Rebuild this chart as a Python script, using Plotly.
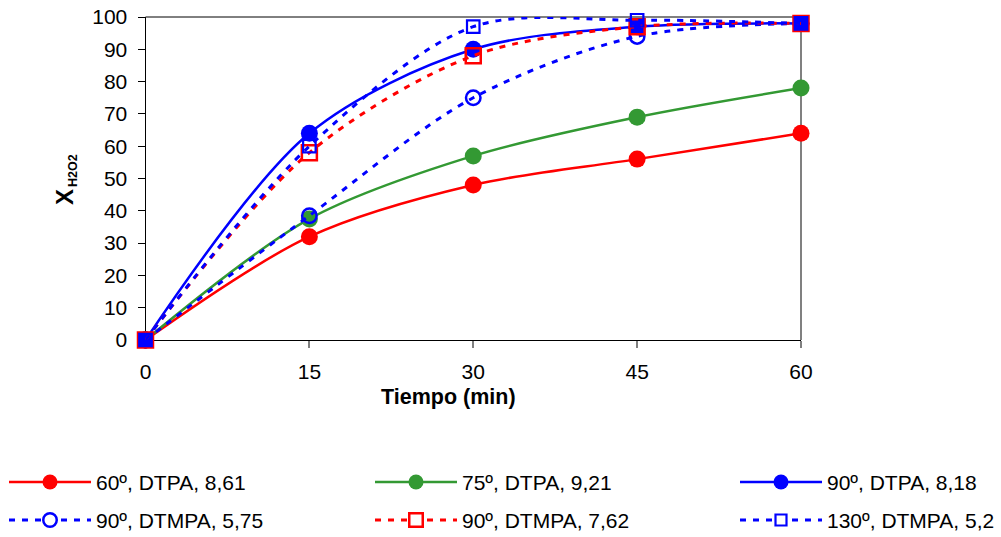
import plotly.graph_objects as go

# H2O2 conversion vs. time for several temperature / stabilizer / pH runs
tiempo = [0, 15, 30, 45, 60]

x_60_dtpa_861 = [0, 32, 48, 56, 64]
x_75_dtpa_921 = [0, 37.5, 57, 69, 78]
x_90_dtpa_818 = [0, 64, 90, 97, 98]
x_90_dtmpa_575 = [0, 38.5, 75, 94, 98]
x_90_dtmpa_762 = [0, 58, 88, 97, 98]
x_130_dtmpa_52 = [0, 60, 97, 99, 98]

series_names = [
    "60º, DTPA, 8,61",
    "75º, DTPA, 9,21",
    "90º, DTPA, 8,18",
    "90º, DTMPA, 5,75",
    "90º, DTMPA, 7,62",
    "130º, DTMPA, 5,2",
]
series_values = [
    x_60_dtpa_861,
    x_75_dtpa_921,
    x_90_dtpa_818,
    x_90_dtmpa_575,
    x_90_dtmpa_762,
    x_130_dtmpa_52,
]

x_tick_vals = [0, 15, 30, 45, 60]
y_tick_vals = [0, 10, 20, 30, 40, 50, 60, 70, 80, 90, 100]

x_title = "<b>Tiempo (min)</b>"

RED = "#FF0000"
GREEN = "#339933"
BLUE = "#0000FF"
CLEAR = "rgba(0,0,0,0)"
DASH = "6px,7px"
FONT = "Liberation Sans, Arial, sans-serif"

# marker / line styling per series
styles = [
    dict(color=RED, dash="solid", lw=2.5, symbol="circle", size=17, fill=RED, mlw=0, leg_size=15),
    dict(color=GREEN, dash="solid", lw=2.5, symbol="circle", size=17, fill=GREEN, mlw=0, leg_size=15),
    dict(color=BLUE, dash="solid", lw=2.5, symbol="circle", size=17, fill=BLUE, mlw=0, leg_size=15),
    dict(color=BLUE, dash=DASH, lw=3, symbol="circle", size=14.5, fill=None, mlw=2.5, leg_size=13.5),
    dict(color=RED, dash=DASH, lw=3, symbol="square", size=15, fill=None, mlw=2.5, leg_size=13.5),
    dict(color=BLUE, dash=DASH, lw=3, symbol="square", size=12.5, fill=None, mlw=2.2, leg_size=11),
]

W, H = 1001, 537
plot_left, plot_right, plot_top, plot_bottom = 145.5, 801, 17, 340

fig = go.Figure()

for name, vals, st in zip(series_names, series_values, styles):
    fig.add_trace(go.Scatter(
        x=tiempo, y=vals, name=name, mode="lines+markers",
        line=dict(color=st["color"], width=st["lw"], dash=st["dash"],
                  shape="spline", smoothing=0.9),
        marker=dict(symbol=st["symbol"], size=st["size"],
                    color=st["fill"] if st["fill"] else CLEAR,
                    line=dict(color=st["color"], width=st["mlw"])),
        cliponaxis=False, showlegend=False, xaxis="x", yaxis="y",
    ))

# legend drawn on a pixel-scaled overlay axis pair below the chart
leg_cols = [9, 375, 740]
leg_rows = [482, 520]
leg_len = 82
annotations = []
for i, (name, st) in enumerate(zip(series_names, styles)):
    x0 = leg_cols[i % 3]
    yy = leg_rows[i // 3]
    fig.add_trace(go.Scatter(
        x=[x0, x0 + leg_len], y=[yy, yy], mode="lines",
        line=dict(color=st["color"], width=st["lw"], dash=st["dash"]),
        showlegend=False, hoverinfo="skip", xaxis="x2", yaxis="y2",
    ))
    fig.add_trace(go.Scatter(
        x=[x0 + leg_len / 2], y=[yy], mode="markers",
        marker=dict(symbol=st["symbol"], size=st["leg_size"],
                    color=st["fill"] if st["fill"] else "white",
                    line=dict(color=st["color"], width=st["mlw"])),
        showlegend=False, hoverinfo="skip", xaxis="x2", yaxis="y2",
    ))
    annotations.append(dict(
        x=x0 + leg_len + 3, y=yy, xref="x2", yref="y2", text=name,
        showarrow=False, xanchor="left", yanchor="middle",
        font=dict(family=FONT, size=21, color="black"),
    ))

# axis titles
annotations.append(dict(
    x=448 / W, y=1 - 397 / H, xref="paper", yref="paper", text=x_title,
    showarrow=False, xanchor="center", yanchor="middle",
    font=dict(family=FONT, size=21.5, color="black"),
))
annotations.append(dict(
    x=64 / W, y=1 - 197 / H, xref="paper", yref="paper", text="<b>X</b>",
    showarrow=False, xanchor="center", yanchor="middle", textangle=-90,
    font=dict(family=FONT, size=24, color="black"),
))
annotations.append(dict(
    x=73 / W, y=1 - 171 / H, xref="paper", yref="paper", text="<b>H2O2</b>",
    showarrow=False, xanchor="center", yanchor="middle", textangle=-90,
    font=dict(family=FONT, size=12.5, color="black"),
))

shapes = [
    # top border (black) and right border (grey)
    dict(type="line", xref="x domain", yref="y domain", x0=0, x1=1, y0=1, y1=1,
         line=dict(color="black", width=1), layer="below"),
    dict(type="line", xref="x domain", yref="y domain", x0=1, x1=1, y0=0, y1=1,
         line=dict(color="#808080", width=2), layer="below"),
]

fig.update_layout(
    width=W, height=H, autosize=False,
    margin=dict(l=0, r=0, t=0, b=0, autoexpand=False),
    paper_bgcolor="white", plot_bgcolor="white",
    font=dict(family=FONT, size=21, color="black"),
    showlegend=False,
    annotations=annotations,
    shapes=shapes,
    xaxis=dict(
        domain=[plot_left / W, plot_right / W], anchor="y", automargin=False,
        range=[0, 60], tickvals=x_tick_vals, ticktext=[str(v) for v in x_tick_vals],
        showgrid=False, zeroline=False, showline=True, linecolor="black", linewidth=1,
        ticks="outside", ticklen=7, tickcolor="#808080", tickwidth=1.5,
        tickfont=dict(family=FONT, size=21, color="black"), ticklabelstandoff=6,
        layer="below traces", fixedrange=True,
    ),
    yaxis=dict(
        domain=[1 - plot_bottom / H, 1 - plot_top / H], anchor="x", automargin=False,
        range=[0, 100], tickvals=y_tick_vals, ticktext=[str(v) for v in y_tick_vals],
        showgrid=False, zeroline=False, showline=True, linecolor="black", linewidth=1,
        ticks="outside", ticklen=7, tickcolor="black", tickwidth=1,
        tickfont=dict(family=FONT, size=21, color="black"), ticklabelstandoff=6,
        layer="below traces", fixedrange=True,
    ),
    xaxis2=dict(domain=[0, 1], anchor="y2", range=[0, W], visible=False,
                fixedrange=True, automargin=False),
    yaxis2=dict(domain=[0, 120 / H], anchor="x2", range=[H, H - 120], visible=False,
                fixedrange=True, automargin=False),
)

fig.write_html("out.html")
